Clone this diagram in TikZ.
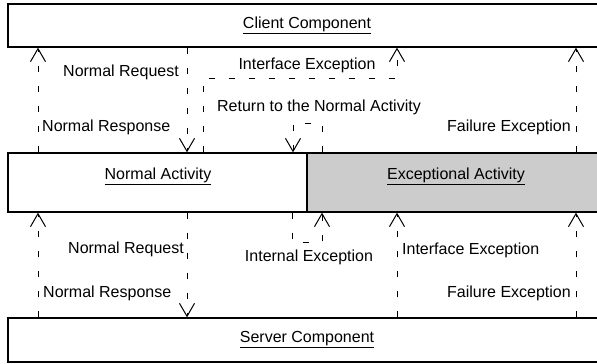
\documentclass[tikz,border=0pt]{standalone}
\usepackage{fontspec}
\setmainfont{Liberation Sans}
\usetikzlibrary{arrows.meta}
\definecolor{exgray}{RGB}{204,204,204}
\tikzset{
  box/.style={draw=black, line width=1.3pt, inner sep=0pt, minimum width=598pt},
  conn/.style={draw=black, line width=1pt, dash pattern=on 6pt off 14pt,
    -{Straight Barb[length=13pt,width=15pt,line width=1pt]}},
  lbl/.style={inner sep=0pt, font=\fontsize{16}{19}\selectfont},
}
\begin{document}
\begin{tikzpicture}[x=1pt,y=-1pt]
\useasboundingbox (0,0) rectangle (597,364);
\clip (0,0) rectangle (597,364);
% boxes
\node[box, minimum height=43pt] (client) at (307,25.5) {};
\node[box, minimum width=298.5pt, minimum height=59pt] (na) at (157.25,182.5) {};
\node[box, fill=exgray, minimum width=298.5pt, minimum height=59pt] (ea) at (456.75,182.5) {};
\node[box, minimum height=44pt] (server) at (307,340) {};
% box labels
\node[lbl] (clientlbl) at (307,25) {\underline{Client Component}};
\node[lbl] (nalbl) at (158,176) {\underline{Normal Activity}};
\node[lbl] (ealbl) at (456,176) {\underline{Exceptional Activity}};
\node[lbl] (serverlbl) at (307,340) {\underline{Server Component}};
% x positions
\coordinate (xa) at (38,0);
\coordinate (xb) at (187,0);
\coordinate (xf) at (576,0);
\coordinate (xi) at (397,0);
\coordinate (ife1) at (203,78);
\coordinate (ife2) at (397,78);
\coordinate (ret1) at (322,123);
\coordinate (ret2) at (293,123);
\coordinate (int1) at (292,242);
\coordinate (int2) at (322,242);
% top connectors
\draw[conn] (na.north -| xa) -- (client.south -| xa);
\draw[conn] (client.south -| xb) -- (na.north -| xb);
\draw[conn] (na.north -| ife1) -- (ife1) -- (ife2) -- (client.south -| ife2);
\draw[conn] (ea.north -| ret1) -- (ret1) -- (ret2) -- (na.north -| ret2);
\draw[conn] (ea.north -| xf) -- (client.south -| xf);
% bottom connectors
\draw[conn] (server.north -| xa) -- (na.south -| xa);
\draw[conn] (na.south -| xb) -- (server.north -| xb);
\draw[conn] (na.south -| int1) -- (int1) -- (int2) -- (ea.south -| int2);
\draw[conn] (server.north -| xi) -- (ea.south -| xi);
\draw[conn] (server.north -| xf) -- (ea.south -| xf);
% connector labels
\node[lbl, anchor=east] (l1) at (179,72) {Normal Request};
\node[lbl, anchor=west] (l2) at (42,127) {Normal Response};
\node[lbl] (l3) at (307,65) {Interface Exception};
\node[lbl] (l4) at (319,107) {Return to the Normal Activity};
\node[lbl, anchor=east] (l5) at (571,127) {Failure Exception};
\node[lbl, anchor=east] (l6) at (184,249) {Normal Request};
\node[lbl, anchor=west] (l7) at (43,293) {Normal Response};
\node[lbl] (l8) at (309,257) {Internal Exception};
\node[lbl, anchor=west] (l9) at (402,250) {Interface Exception};
\node[lbl, anchor=east] (l10) at (571,293) {Failure Exception};
\end{tikzpicture}
\end{document}
